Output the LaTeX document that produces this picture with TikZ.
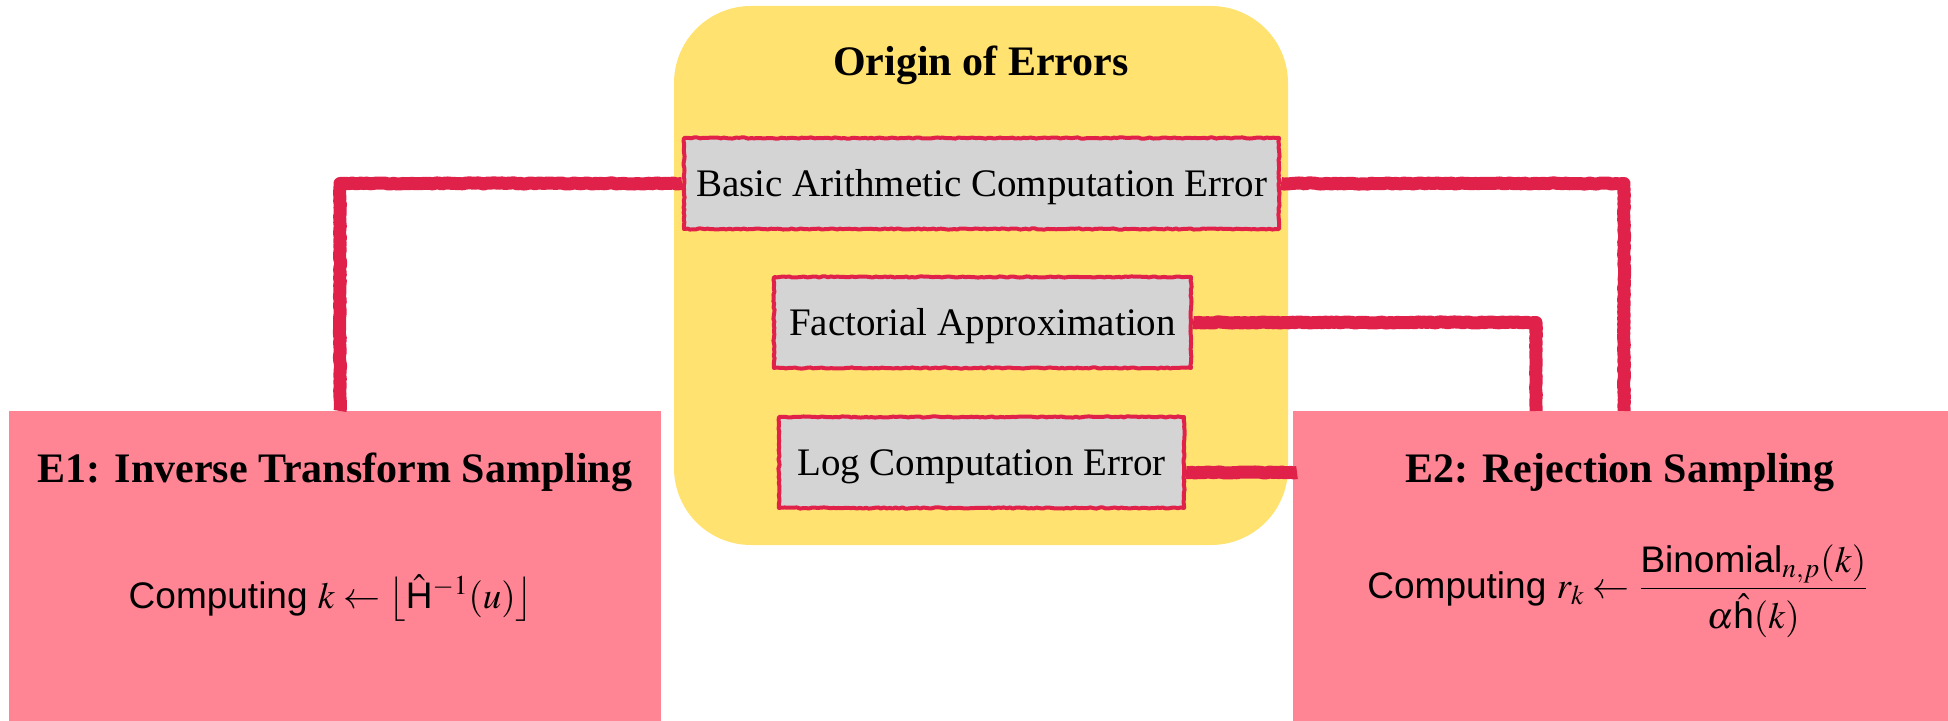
\documentclass[tikz,border=0pt]{standalone}
\usepackage{amsmath}
\usepackage{mathptmx}
\usepackage{fontspec}
\setmainfont{Liberation Serif}
\setsansfont{Liberation Sans}
\usetikzlibrary{decorations.pathmorphing}
\definecolor{panelyellow}{HTML}{FFE26F}
\definecolor{errpink}{HTML}{FF8595}
\definecolor{srcgray}{HTML}{D4D4D4}
\definecolor{crayon}{HTML}{E0224B}
% lengths given in pixels of the 1948 x 721 canvas (1px = 0.5pt)
\newcommand\pxu[1]{#1*0.5pt}
\pgfmathsetseed{4217}

\begin{document}
\begin{tikzpicture}[x=0.5pt,y=-0.5pt,
  rough/.style={decorate,decoration={random steps,segment length=1.5pt,amplitude=0.3pt}},
  panel/.style={fill=panelyellow, rounded corners=38.5pt, inner sep=0pt},
  method/.style={fill=errpink, inner sep=0pt, anchor=north west},
  source/.style={draw=crayon, line width=2pt, line join=round, fill=srcgray, rough,
    inner sep=0pt, minimum height=\pxu{91},
    font=\fontsize{19.5}{23}\selectfont, text height=13pt, text depth=0pt},
  heading/.style={font=\fontsize{21}{25}\selectfont\bfseries, anchor=base, inner sep=0pt},
  formula/.style={font=\sffamily\fontsize{18.5}{22}\selectfont, anchor=base, inner sep=0pt},
  link/.style={draw=crayon, line width=6.5pt, line join=round, rough}
]
\useasboundingbox (0,0) rectangle (1948,721);

% yellow panel holding the error sources
\node[panel, minimum width=\pxu{614}, minimum height=\pxu{539}] (panel) at (981,275.5) {};
\node[heading] (ttl) at (981,76) {Origin of Errors};

% the two sampling methods
\node[method, minimum width=\pxu{652}, minimum height=\pxu{310}] (e1) at (9,411) {};
\node[method, minimum width=\pxu{655}, minimum height=\pxu{310}] (e2) at (1293,411) {};
\node[heading] (t1) at (335,482) {E1: Inverse Transform Sampling};
\node[heading] (t2) at (1620,482) {E2: Rejection Sampling};
\node[formula] (f1) at (331,608)
  {Computing $k \leftarrow \big\lfloor \smash[t]{\hat{\textsf{H}}}^{-1}(u) \big\rfloor$};
\node[formula] (f2) at (1618,598)
  {Computing $r_k \leftarrow \dfrac{\textsf{Binomial}_{n,p}(k)\rule[-4pt]{0pt}{0pt}}{\rule{0pt}{16pt}\alpha\hat{\textsf{h}}(k)}$};

% error sources
\node[source, minimum width=\pxu{595}] (b1) at (981.5,183.5) {Basic Arithmetic Computation Error};
\node[source, minimum width=\pxu{417}] (b2) at (982.5,322.5) {Factorial Approximation};
\node[source, minimum width=\pxu{405}] (b3) at (981.5,462.5) {Log Computation Error};

% entry points on the method boxes
\coordinate (e1in) at (340,411);
\coordinate (e2inA) at (1624,411);
\coordinate (e2inB) at (1536,411);
\path (b3.east) ++(0,10) coordinate (b3out);
\coordinate (e2side) at (1297,472.5);

% connections from sources to methods
\draw[link] (b1.west) -| (e1in);
\draw[link] (b1.east) -| (e2inA);
\draw[link] (b2.east) -| (e2inB);
\draw[link] (b3out) -- (e2side);
\end{tikzpicture}
\end{document}
